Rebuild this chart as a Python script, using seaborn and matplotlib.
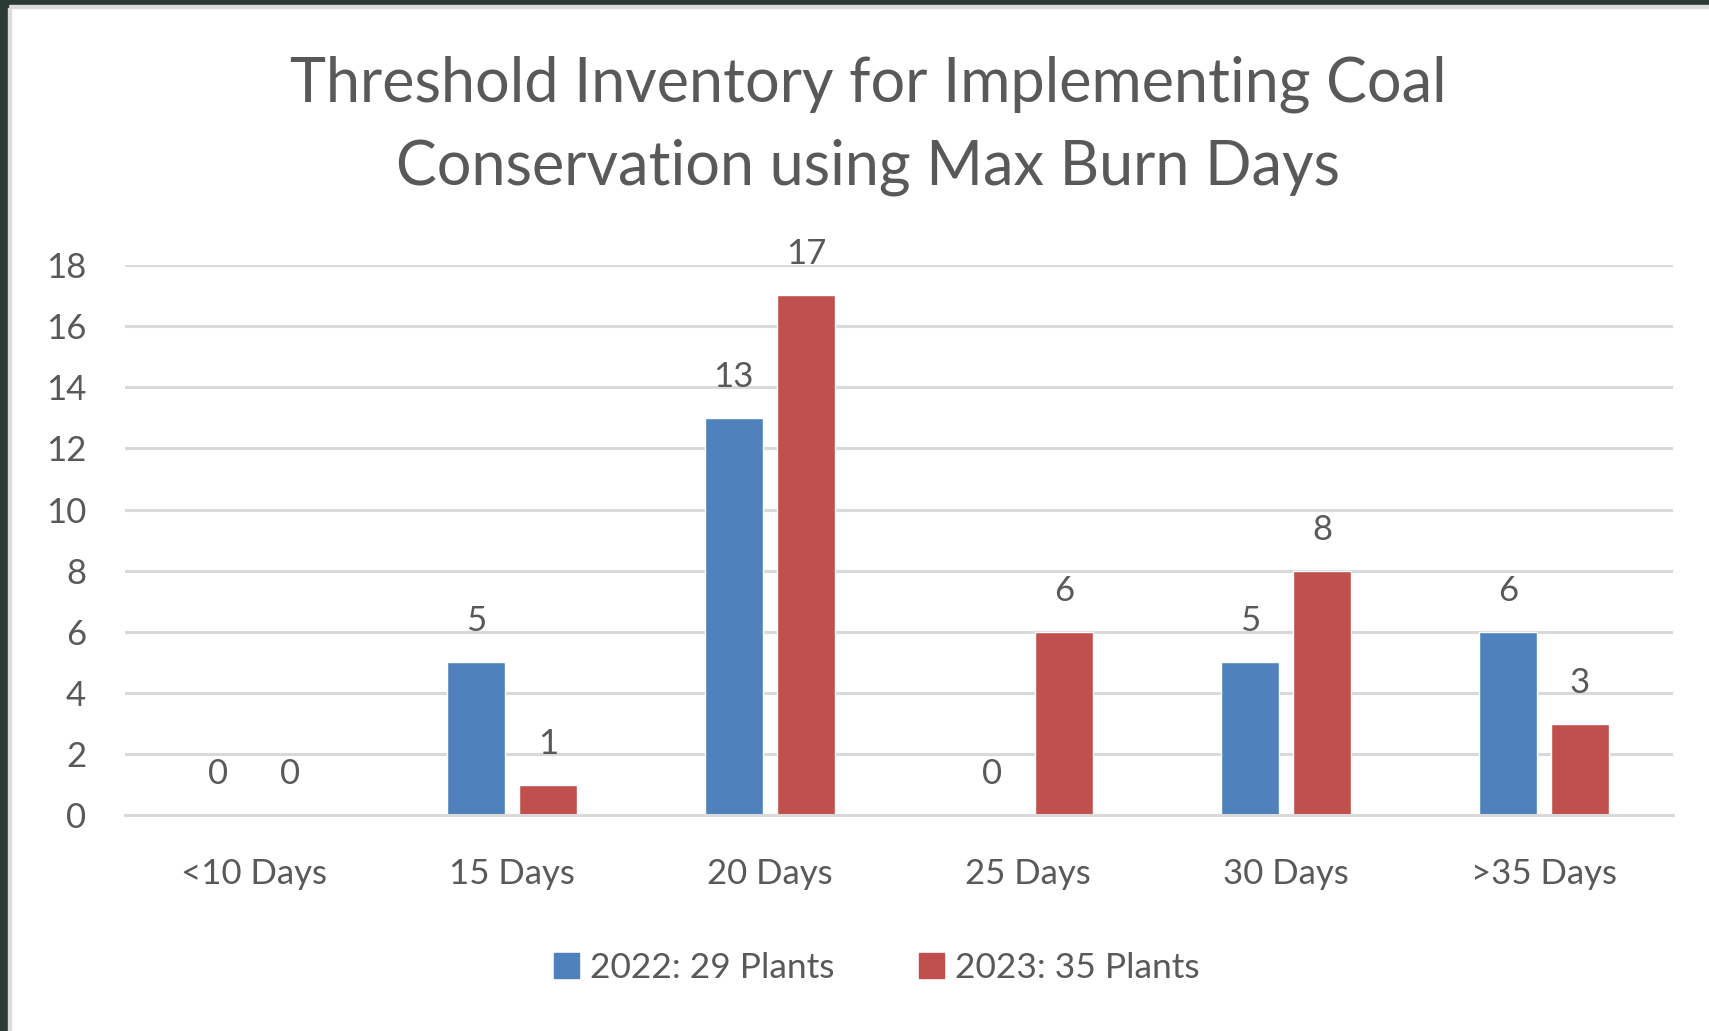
import matplotlib
matplotlib.use('Agg')
import matplotlib.pyplot as plt
import pandas as pd
import seaborn as sns
from matplotlib.patches import Rectangle

categories = ['<10 Days', '15 Days', '20 Days', '25 Days', '30 Days', '>35 Days']
series_names = ['2022: 29 Plants', '2023: 35 Plants']
values_2022 = [0, 5, 13, 0, 5, 6]
values_2023 = [0, 1, 17, 6, 8, 3]
y_ticks = list(range(0, 20, 2))

colors = ['#4F81BD', '#C0504D']
text_color = '#595959'

df = pd.DataFrame({
    'category': categories * 2,
    'series': [series_names[0]] * len(categories) + [series_names[1]] * len(categories),
    'value': values_2022 + values_2023,
})

sns.set_theme(style='white')
plt.rcParams['font.family'] = ['Lato', 'DejaVu Sans']

fig = plt.figure(figsize=(17.09, 10.31), dpi=100)
ax = fig.add_axes([0.0731, 0.2092, 0.9058, 0.5339])

sns.barplot(data=df, x='category', y='value', hue='series', order=categories,
            hue_order=series_names, palette=colors, width=0.56, gap=0.2,
            saturation=1, ax=ax, legend=True)

# data labels above each bar
for container in ax.containers:
    ax.bar_label(container, labels=[f'{int(v)}' for v in container.datavalues],
                 padding=18, fontsize=25, color=text_color)

ax.set_xlim(-0.5, len(categories) - 0.5)
ax.set_ylim(0, 18)
ax.set_yticks(y_ticks)
ax.yaxis.grid(True, color='#D9D9D9', linewidth=2.2)
ax.set_axisbelow(True)
for side in ['top', 'right', 'left']:
    ax.spines[side].set_visible(False)
ax.spines['bottom'].set_color('#D9D9D9')
ax.spines['bottom'].set_linewidth(2.2)
ax.tick_params(axis='y', length=0, pad=28, labelsize=25, labelcolor=text_color)
ax.tick_params(axis='x', length=0, pad=31, labelsize=25, labelcolor=text_color)
ax.set_xlabel('')
ax.set_ylabel('')

ax.get_legend().remove()
handles = [Rectangle((0, 0), 1, 1, color=c) for c in colors]
fig.legend(handles, series_names, loc='center', bbox_to_anchor=(0.513, 0.061),
           ncol=2, frameon=False, fontsize=25.5, labelcolor=text_color,
           handlelength=0.7, handleheight=0.7, handletextpad=0.3, columnspacing=2.4)

fig.text(0.508, 0.878, 'Threshold Inventory for Implementing Coal\nConservation using Max Burn Days',
         ha='center', va='center', fontsize=44, color=text_color, linespacing=1.55)

# dark frame at top and left edges of the screenshot
fig.patches.append(Rectangle((0, 0.9955), 1, 0.0045, transform=fig.transFigure,
                             color='#2B3A34', zorder=10))
fig.patches.append(Rectangle((0, 0.992), 1, 0.0035, transform=fig.transFigure,
                             color='#DCDCDC', zorder=10))
fig.patches.append(Rectangle((0, 0), 0.0047, 1, transform=fig.transFigure,
                             color='#2B3A34', zorder=10))
fig.patches.append(Rectangle((0.0047, 0), 0.0018, 0.992, transform=fig.transFigure,
                             color='#DCDCDC', zorder=10))

fig.savefig('out.png', dpi=100)
